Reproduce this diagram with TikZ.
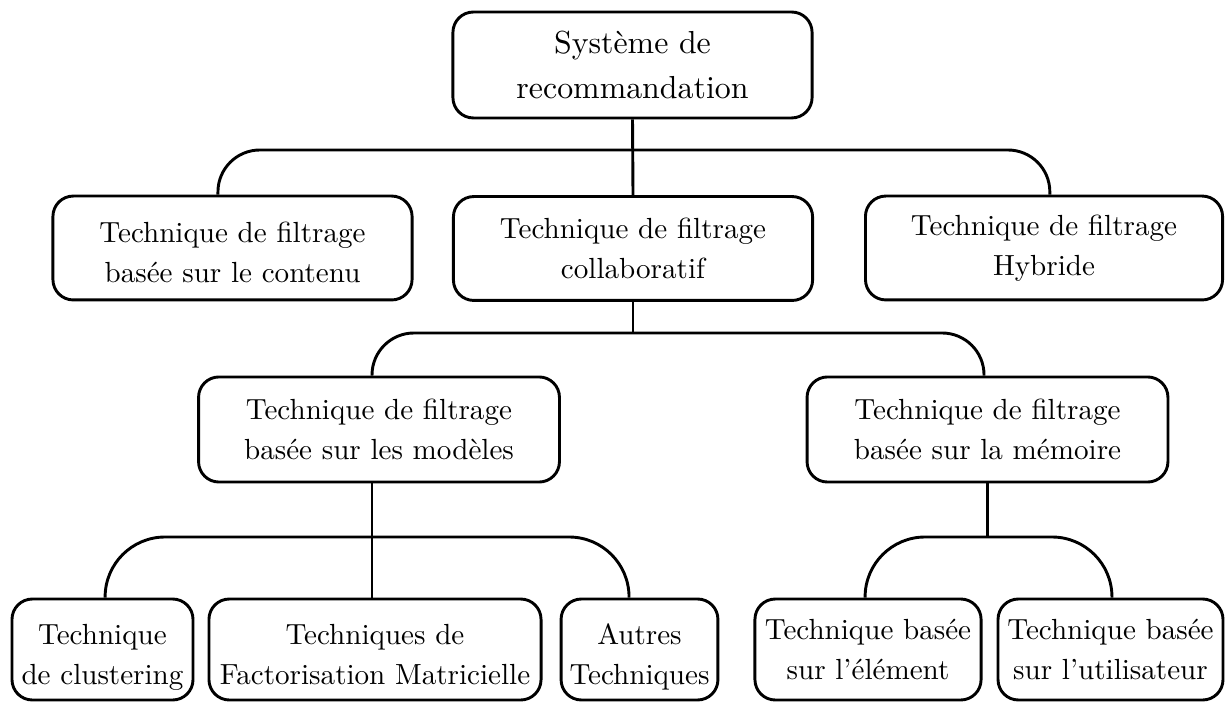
\documentclass[tikz,border=0pt]{standalone}
\usepackage{fontspec}
% invisible strut that sets the height of a node's first text line
\newcommand\firstline[1]{\rule{0pt}{#1}}
\begin{document}
\begin{tikzpicture}[
  x=0.3436pt, y=-0.3436pt,
  box/.style={draw, line width=1pt, rounded corners=7pt, align=center,
    inner sep=0pt, font=\fontsize{10}{13.6}\selectfont},
  lvlone/.style={box, minimum width=123.4pt, minimum height=35.7pt},
  lvltwo/.style={box, minimum width=124pt, minimum height=36.1pt},
  leaf/.style={box, minimum height=34.7pt},
  conn/.style={line width=1pt}
]
\useasboundingbox (0,0) rectangle (1225,702);

% root
\node[box, minimum width=123.4pt, minimum height=36.4pt,
      font=\fontsize{10.95}{15.5}\selectfont] (root) at (632.5,65)
  {Système de\\recommandation};

% first level
\node[lvlone] (content) at (232.5,248) {\firstline{9.96pt}Technique de filtrage\\basée sur le contenu};
\node[lvlone] (collab)  at (633,248.5) {Technique de filtrage\\collaboratif};
\node[lvlone, minimum width=122.7pt] (hybrid) at (1044,248) {Technique de filtrage\\Hybride};

% second level
\node[lvltwo] (models) at (379,429.5) {Technique de filtrage\\basée sur les modèles};
\node[lvltwo] (memory) at (987.5,429.5) {Technique de filtrage\\basée sur la mémoire};

% leaves
\node[leaf, minimum width=62.2pt]  (clust)  at (102.5,649.5) {\firstline{12.4pt}Technique\\de clustering};
\node[leaf, minimum width=114.1pt] (fact)   at (375,649.5)   {\firstline{10.5pt}Techniques de\\Factorisation Matricielle};
\node[leaf, minimum width=53.9pt]  (autres) at (639.5,649.5) {\firstline{12.4pt}Autres\\Techniques};
\node[leaf, minimum width=77.7pt]  (elem)   at (868,649.5)   {Technique basée\\sur l'élément};
\node[leaf, minimum width=77.3pt]  (util)   at (1110.5,649.5) {Technique basée\\sur l'utilisateur};

% junction points
\coordinate (j1) at (633,150);
\coordinate (j2) at (633,333);
\coordinate (j3) at (372,537);
\coordinate (j4) at (987.5,537);

% root -> first level
\draw[conn] (root.south) -- (collab.north);
\draw[conn, rounded corners=14.4pt]
  ([xshift=-5pt]content.north) |- (j1) -| ([xshift=2pt]hybrid.north);

% collaborative -> second level
\draw[conn] (collab.south) -- (j2);
\draw[conn, rounded corners=14.4pt]
  ([xshift=-2.4pt]models.north) |- (j2) -| ([xshift=-1.2pt]memory.north);

% model based -> leaves
\draw[conn] (j3 |- models.south) -- (j3 |- fact.north);
\draw[conn, rounded corners=20.6pt]
  ([xshift=0.9pt]clust.north) |- (j3) -| ([xshift=-3.6pt]autres.north);

% memory based -> leaves
\draw[conn] (memory.south) -- (j4);
\draw[conn, rounded corners=20.6pt]
  ([xshift=-1pt]elem.north) |- (j4) -| ([xshift=0.5pt]util.north);
\end{tikzpicture}
\end{document}
